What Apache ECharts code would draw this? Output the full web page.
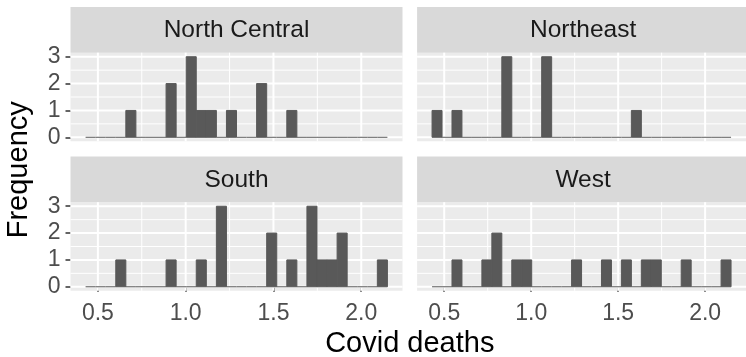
<!DOCTYPE html>
<html>
<head>
<meta charset="utf-8">
<script src="https://cdn.jsdelivr.net/npm/echarts@6/dist/echarts.min.js"></script>
<style>
  html, body { margin: 0; padding: 0; background: #ffffff; }
  #chart { width: 746px; height: 357px; }
</style>
</head>
<body>
<div id="chart"></div>
<script>
// Histogram of Covid deaths by region: 30 equal-width bins shared by every facet
const binStart = 0.43;
const binWidth = 0.0573;

const regions = ['North Central', 'Northeast', 'South', 'West'];

// Count per bin (30 bins) for each region
const countsNorthCentral = [0,0,0,0,1,0,0,0,2,0,3,1,1,0,1,0,0,2,0,0,1,0,0,0,0,0,0,0,0,0];
const countsNortheast    = [1,0,1,0,0,0,0,3,0,0,0,3,0,0,0,0,0,0,0,0,1,0,0,0,0,0,0,0,0,0];
const countsSouth        = [0,0,0,1,0,0,0,0,1,0,0,1,0,3,0,0,0,0,2,0,1,0,3,1,1,2,0,0,0,1];
const countsWest         = [0,0,1,0,0,1,2,0,1,1,0,0,0,0,1,0,0,1,0,1,0,1,1,0,0,1,0,0,0,1];

// Axis breaks
const xTicks = [0.5, 1.0, 1.5, 2.0];
const xMinorTicks = [0.75, 1.25, 1.75];
const yTicks = [0, 1, 2, 3];
const yMinorTicks = [0.5, 1.5, 2.5];

const xTitle = 'Covid deaths';
const yTitle = 'Frequency';

const allCounts = [countsNorthCentral, countsNortheast, countsSouth, countsWest];
const nBins = countsNorthCentral.length;

// Continuous-scale limits with a 5% expansion on each side
const xLo = binStart, xHi = binStart + nBins * binWidth;
const xPad = 0.05 * (xHi - xLo);
const xMin = xLo - xPad, xMax = xHi + xPad;
const yTop = Math.max(...allCounts.map(c => Math.max(...c)));
const yPad = 0.05 * yTop;
const yMin = -yPad, yMax = yTop + yPad;

// Facet layout (2 x 2)
const panelLeft = [70.5, 417.1];
const panelTop = [52.7, 202.2];
const panelW = 332;
const panelH = 88.6;
const stripH = 45.7;

const FONT = '"Liberation Sans", Arial, Helvetica, sans-serif';
const BAR = '#595959';

const grids = [], xAxes = [], yAxes = [], series = [], graphics = [];

regions.forEach((name, i) => {
  const col = i % 2, row = Math.floor(i / 2);
  const left = panelLeft[col], top = panelTop[row];
  const isBottom = row === 1, isLeft = col === 0;

  grids.push({
    left: left, top: top, width: panelW, height: panelH,
    show: true, backgroundColor: '#EBEBEB', borderWidth: 0
  });

  xAxes.push({
    type: 'value', gridIndex: i, min: xMin, max: xMax,
    axisLine: { show: false },
    splitLine: { show: false },
    axisTick: {
      show: isBottom, customValues: xTicks, length: 5,
      lineStyle: { color: '#333333', width: 1.5 }
    },
    axisLabel: {
      show: isBottom, customValues: xTicks, margin: 11,
      color: '#4D4D4D', fontSize: 23, fontFamily: FONT,
      formatter: v => v.toFixed(1)
    }
  });

  yAxes.push({
    type: 'value', gridIndex: i, min: yMin, max: yMax,
    axisLine: { show: false },
    splitLine: { show: false },
    axisTick: {
      show: isLeft, customValues: yTicks, length: 5,
      lineStyle: { color: '#333333', width: 1.5 }
    },
    axisLabel: {
      show: isLeft, customValues: yTicks, margin: 10,
      color: '#4D4D4D', fontSize: 23, fontFamily: FONT,
      formatter: v => String(Math.round(v))
    }
  });

  // Panel grid lines (minor then major)
  series.push({
    type: 'custom', xAxisIndex: i, yAxisIndex: i, z: 1, silent: true,
    data: [[0]],
    renderItem: (params, api) => {
      const children = [];
      const vline = (v, w) => {
        const a = api.coord([v, yMin]), b = api.coord([v, yMax]);
        children.push({ type: 'line', shape: { x1: a[0], y1: a[1], x2: b[0], y2: b[1] },
          style: { stroke: '#FFFFFF', lineWidth: w } });
      };
      const hline = (v, w) => {
        const a = api.coord([xMin, v]), b = api.coord([xMax, v]);
        children.push({ type: 'line', shape: { x1: a[0], y1: a[1], x2: b[0], y2: b[1] },
          style: { stroke: '#FFFFFF', lineWidth: w } });
      };
      xMinorTicks.forEach(v => vline(v, 1));
      yMinorTicks.forEach(v => hline(v, 1));
      xTicks.forEach(v => vline(v, 2));
      yTicks.forEach(v => hline(v, 2));
      return { type: 'group', children: children };
    }
  });

  // Histogram bars
  const counts = allCounts[i];
  const binData = counts.map((c, k) => [binStart + k * binWidth, binStart + (k + 1) * binWidth, c]);
  series.push({
    type: 'custom', name: name, xAxisIndex: i, yAxisIndex: i, z: 2, silent: true,
    data: binData,
    renderItem: (params, api) => {
      const x0 = api.value(0), x1 = api.value(1), c = api.value(2);
      const p0 = api.coord([x0, 0]);
      const p1 = api.coord([x1, c]);
      if (c === 0) {
        return { type: 'line', shape: { x1: p0[0], y1: p0[1], x2: p1[0], y2: p0[1] },
          style: { stroke: BAR, lineWidth: 1 } };
      }
      return { type: 'rect',
        shape: { x: p0[0], y: p1[1], width: p1[0] - p0[0], height: p0[1] - p1[1] },
        style: { fill: BAR, stroke: BAR, lineWidth: 1 } };
    }
  });

  // Facet strip
  const stripTop = top - stripH;
  graphics.push({
    type: 'rect', left: left, top: stripTop, silent: true,
    shape: { width: panelW, height: stripH },
    style: { fill: '#D9D9D9' }
  });
  graphics.push({
    type: 'text', silent: true,
    x: left + panelW / 2, y: stripTop + stripH / 2 + 0.5,
    style: { text: name, fill: '#1A1A1A', font: '24.5px ' + FONT,
      textAlign: 'center', textVerticalAlign: 'middle' }
  });
});

// Axis titles
graphics.push({
  type: 'text', silent: true,
  x: (panelLeft[0] + panelLeft[1] + panelW) / 2, y: 344,
  style: { text: xTitle, fill: '#000000', font: '29px ' + FONT,
    textAlign: 'center', textVerticalAlign: 'middle' }
});
graphics.push({
  type: 'text', silent: true,
  x: 19, y: (panelTop[0] + panelTop[1] + panelH) / 2 - 2, rotation: Math.PI / 2,
  style: { text: yTitle, fill: '#000000', font: '29px ' + FONT,
    textAlign: 'center', textVerticalAlign: 'middle' }
});

const chart = echarts.init(document.getElementById('chart'), null, { renderer: 'canvas' });
chart.setOption({
  animation: false,
  backgroundColor: '#FFFFFF',
  grid: grids,
  xAxis: xAxes,
  yAxis: yAxes,
  series: series,
  graphic: graphics
});
</script>
</body>
</html>
